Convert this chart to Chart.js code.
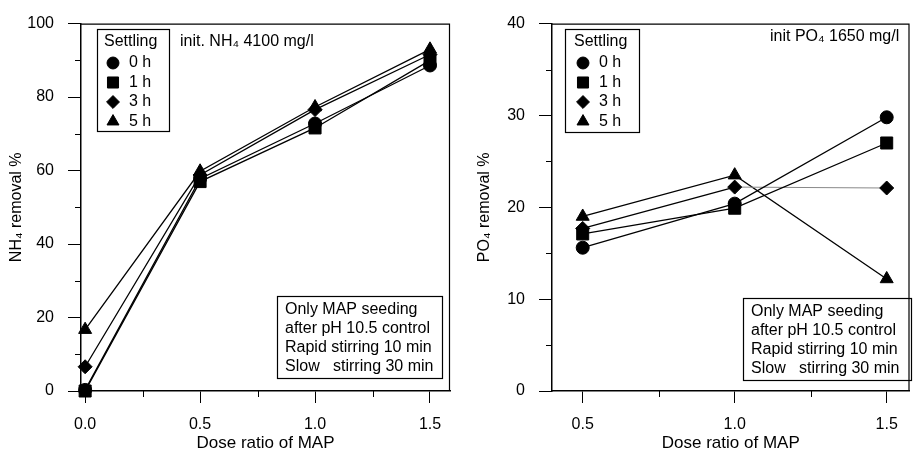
<!DOCTYPE html>
<html><head><meta charset="utf-8">
<script src="https://cdn.jsdelivr.net/npm/chart.js@4/dist/chart.umd.min.js"></script>
<style>
html,body{margin:0;padding:0;background:#fff;width:919px;height:454px;overflow:hidden}
#c1{position:absolute;left:0;top:0}
#c2{position:absolute;left:460px;top:0}
</style></head><body>
<canvas id="c1" width="460" height="454"></canvas>
<canvas id="c2" width="459" height="454"></canvas>
<script>
// ---- data ----
const seriesNames = ['0 h', '1 h', '3 h', '5 h'];
const nhDose = [0.0, 0.5, 1.0, 1.5];
const nh_0h = [0.3, 57.8, 72.8, 88.6];
const nh_1h = [0.0, 57.0, 71.6, 90.0];
const nh_3h = [6.6, 58.8, 76.6, 91.6];
const nh_5h = [16.7, 59.8, 77.3, 93.0];
const poDose = [0.5, 1.0, 1.5];
const po_0h = [15.6, 20.4, 29.8];
const po_1h = [17.1, 19.9, 27.0];
const po_3h = [17.7, 22.2, 22.1];
const po_5h = [19.0, 23.5, 12.2];
const nhXTicks = [0.0, 0.5, 1.0, 1.5];
const nhXTickLabels = ['0.0', '0.5', '1.0', '1.5'];
const nhXMinor = [0.25, 0.75, 1.25];
const nhYTicks = [0, 20, 40, 60, 80, 100];
const nhYMinor = [10, 30, 50, 70, 90];
const poXTicks = [0.5, 1.0, 1.5];
const poXTickLabels = ['0.5', '1.0', '1.5'];
const poXMinor = [0.75, 1.25];
const poYTicks = [0, 10, 20, 30, 40];
const poYMinor = [5, 15, 25, 35];
const conditionLines = ['Only MAP seeding', 'after pH 10.5 control', 'Rapid stirring 10 min', 'Slow   stirring 30 min'];

// ---- styles ----
const FONT = "'Liberation Sans', Arial, sans-serif";
Chart.defaults.font.family = FONT;
Chart.defaults.color = '#000';
const pointStyles = ['circle', 'rect', 'rectRot', 'triangle'];
const pointRadii = [6.5, 8.5, 7, 7.5];

function pairs(xs, ys) { return xs.map((x, i) => ({x: x, y: ys[i]})); }

const decor = {
  id: 'decor',
  afterDraw(chart, args, o) {
    const ctx = chart.ctx, a = chart.chartArea;
    const xs = chart.scales.x, ys = chart.scales.y;
    ctx.save();
    ctx.strokeStyle = '#000';
    ctx.lineWidth = 1.2;
    ctx.beginPath();
    ctx.moveTo(a.left, a.top + 0.5); ctx.lineTo(a.right, a.top + 0.5);
    ctx.moveTo(a.right - 0.5, a.top); ctx.lineTo(a.right - 0.5, a.bottom);
    ctx.stroke();
    ctx.lineWidth = 1;
    ctx.beginPath();
    o.xMinor.forEach(v => { const px = Math.round(xs.getPixelForValue(v)) + 0.5; ctx.moveTo(px, a.bottom); ctx.lineTo(px, a.bottom + 6); });
    o.yMinor.forEach(v => { const py = Math.round(ys.getPixelForValue(v)) + 0.5; ctx.moveTo(a.left, py); ctx.lineTo(a.left - 6, py); });
    ctx.stroke();
    // legend box
    const L = o.legend;
    ctx.fillStyle = '#fff';
    ctx.fillRect(L.x, L.y, L.w, L.h);
    ctx.lineWidth = 1.2;
    ctx.strokeRect(L.x + 0.5, L.y + 0.5, L.w, L.h);
    ctx.fillStyle = '#000';
    ctx.font = '16px ' + FONT;
    ctx.textBaseline = 'middle';
    ctx.textAlign = 'left';
    ctx.fillText('Settling', L.x + L.pad, L.y + 13);
    chart.data.datasets.forEach((ds, i) => {
      const cy = L.y + 34 + i * 19.5;
      ctx.fillStyle = '#000'; ctx.strokeStyle = '#000'; ctx.lineWidth = 1;
      Chart.helpers.drawPoint(ctx, {pointStyle: ds.pointStyle, radius: ds.pointRadius * 0.92, rotation: 0, borderWidth: 1}, L.x + L.mx, cy);
      ctx.fillStyle = '#000';
      ctx.fillText(ds.label, L.x + L.mx + 16, cy);
    });
    // note
    ctx.textAlign = 'left';
    ctx.fillText(o.note.text, o.note.x, o.note.y);
    // condition box
    const B = o.box;
    ctx.lineWidth = 1.2;
    ctx.strokeRect(B.x + 0.5, B.y + 0.5, B.w, B.h);
    conditionLines.forEach((t, i) => ctx.fillText(t, B.x + 8, B.y + 14 + i * 19));
    ctx.restore();
  }
};

function makeChart(id, cfg) {
  const datasets = cfg.series.map((ys, i) => ({
    label: seriesNames[i],
    data: pairs(cfg.dose, ys),
    borderColor: '#000',
    backgroundColor: '#000',
    borderWidth: 1.3,
    pointStyle: pointStyles[i],
    pointRadius: pointRadii[i],
    pointBackgroundColor: '#000',
    pointBorderColor: '#000',
    pointBorderWidth: 1,
    clip: false,
    segment: cfg.segment ? cfg.segment(i) : undefined
  }));
  return new Chart(document.getElementById(id), {
    type: 'line',
    data: {datasets},
    options: {
      responsive: false, animation: false, devicePixelRatio: 1,
      layout: {padding: cfg.padding},
      plugins: {legend: {display: false}, tooltip: {enabled: false}, decor: cfg.decor},
      scales: {
        x: {
          type: 'linear', min: cfg.xMin, max: cfg.xMax,
          afterBuildTicks: s => { s.ticks = cfg.xTicks.map(v => ({value: v})); },
          afterFit: s => { s.height = 63; },
          ticks: {callback: v => cfg.xLabels[cfg.xTicks.indexOf(v)], padding: 12, autoSkip: false, maxRotation: 0, font: {size: 16}, color: '#000'},
          grid: {drawOnChartArea: false, drawTicks: true, tickLength: 12, color: '#000', lineWidth: 1},
          border: {display: true, color: '#000', width: 1.5},
          title: {display: true, text: 'Dose ratio of MAP', font: {size: 17}, padding: {top: 0, bottom: 0}, color: '#000'}
        },
        y: {
          type: 'linear', min: cfg.yMin, max: cfg.yMax,
          afterBuildTicks: s => { s.ticks = cfg.yTicks.map(v => ({value: v})); },
          afterFit: s => { s.width = cfg.yWidth; },
          ticks: {padding: 14, font: {size: 16}, color: '#000'},
          grid: {drawOnChartArea: false, drawTicks: true, tickLength: 13, color: '#000', lineWidth: 1},
          border: {display: true, color: '#000', width: 1.5},
          title: {display: true, text: cfg.yTitle, font: {size: 16}, padding: {top: cfg.yTitlePad, bottom: 0}, color: '#000'}
        }
      }
    },
    plugins: [decor]
  });
}

makeChart('c1', {
  dose: nhDose, series: [nh_0h, nh_1h, nh_3h, nh_5h],
  xMin: -0.018, xMax: 1.587, yMin: 0, yMax: 100,
  xTicks: nhXTicks, xLabels: nhXTickLabels, yTicks: nhYTicks,
  yTitle: 'NH\u2084 removal %', yTitlePad: 7, yWidth: 81,
  padding: {top: 17, right: 10, left: 0, bottom: 0},
  decor: {
    xMinor: nhXMinor, yMinor: nhYMinor,
    legend: {x: 97, y: 29, w: 72, h: 102, pad: 7, mx: 16},
    note: {text: 'init. NH\u2084 4100 mg/l', x: 180, y: 42},
    box: {x: 277, y: 296, w: 165, h: 82}
  }
});

makeChart('c2', {
  dose: poDose, series: [po_0h, po_1h, po_3h, po_5h],
  xMin: 0.399, xMax: 1.575, yMin: 0, yMax: 40,
  xTicks: poXTicks, xLabels: poXTickLabels, yTicks: poYTicks,
  yTitle: 'PO\u2084 removal %', yTitlePad: 15, yWidth: 92,
  padding: {top: 15, right: 4, left: 0, bottom: 0},
  segment: i => i === 2 ? {borderColor: c => c.p0DataIndex === 1 ? '#888' : '#000', borderWidth: c => c.p0DataIndex === 1 ? 1 : 1.3} : undefined,
  decor: {
    xMinor: poXMinor, yMinor: poYMinor,
    legend: {x: 105, y: 29, w: 74, h: 103, pad: 9, mx: 18},
    note: {text: 'init PO\u2084 1650 mg/l', x: 310, y: 37},
    box: {x: 283, y: 298, w: 168, h: 82}
  }
});
</script>
</body></html>
